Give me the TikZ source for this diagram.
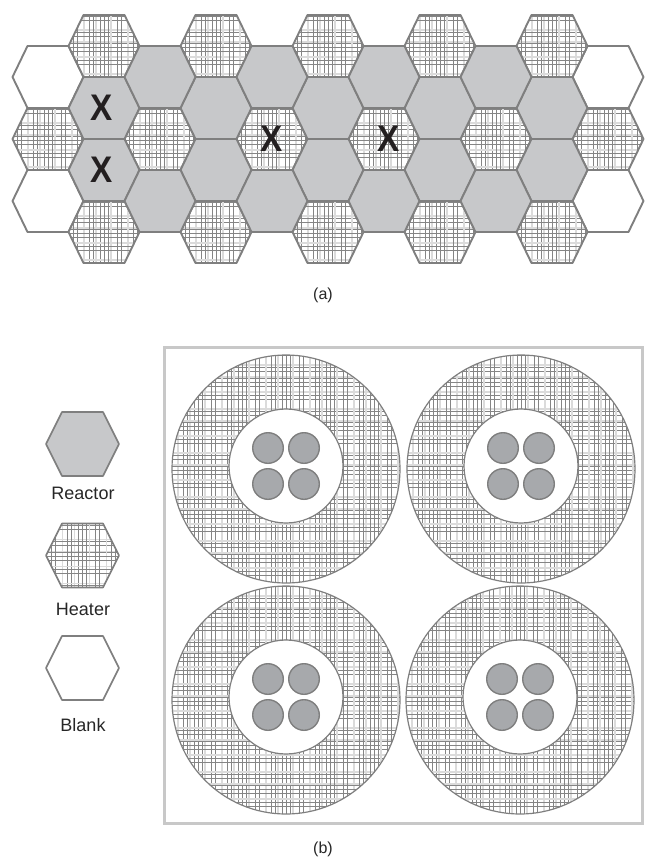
\documentclass[tikz,border=0pt]{standalone}
\usepackage{fontspec}
\setmainfont{Liberation Sans}
\usepackage{tikz}
\definecolor{edgegray}{HTML}{7F7F7F}
\definecolor{reactorgray}{HTML}{C7C8CA}
\definecolor{rodgray}{HTML}{A7A9AC}
\definecolor{framegray}{HTML}{C8C8C8}
\definecolor{markblack}{HTML}{231F20}
% irregular plaid, repeated every 44 units from the middle of the shape
\newcommand{\plaidlines}{%
  \begin{scope}[shift={(path picture bounding box.center)}]
    \foreach \k in {-3,...,3} {
      \foreach \o in {7,24,36} {
        \draw[line width=1.2pt, black!14] (\k*44+\o,-135) -- (\k*44+\o,135);
        \draw[line width=1.2pt, black!14] (-135,\k*44+\o+4) -- (135,\k*44+\o+4);
      }
      \foreach \o in {0,4,13,17,29,33,40} {
        \draw[line width=.45pt, black!48] (\k*44+\o,-135) -- (\k*44+\o,135);
        \draw[line width=.45pt, black!48] (-135,\k*44+\o+1) -- (135,\k*44+\o+1);
      }
    }
  \end{scope}}
\tikzset{
  blank/.style    = {draw=edgegray, line width=1.9pt, line join=round, fill=white},
  reactor/.style  = {blank, fill=reactorgray},
  heater/.style   = {blank, path picture={\plaidlines}},
  ring/.style     = {draw=edgegray, line width=1.2pt, fill=white},
  fuel/.style     = {ring, fill=rodgray, line width=1.4pt},
  caption/.style  = {font=\fontsize{16}{18}\selectfont, text=black!85},
  legendtxt/.style = {font=\fontsize{18}{20}\selectfont, text=black!85},
  xmark/.style    = {font=\fontsize{37}{37}\selectfont\bfseries, text=markblack, xscale=.9},
}
\newcommand{\hexcell}[3]{%
  \draw[#1] (#2-20.5,#3-31) -- (#2+20.5,#3-31) -- (#2+35.5,#3) -- (#2+20.5,#3+31)
    -- (#2-20.5,#3+31) -- (#2-35.5,#3) -- cycle;}
\newcommand{\legendhex}[3]{%
  \draw[#1, line width=1.6pt] (#2-20.5,#3-32) -- (#2+20.5,#3-32) -- (#2+36.5,#3) -- (#2+20.5,#3+32)
    -- (#2-20.5,#3+32) -- (#2-36.5,#3) -- cycle;}
\newcommand{\fuelunit}[4]{%
  \draw[ring, path picture={\plaidlines}] (#1,#2) circle [radius=114];
  \draw[ring] (#3,#4) circle [radius=57];
  \foreach \dx in {-18,18} {
    \foreach \dy in {-18,18} {
      \draw[fuel] (#3+\dx,#4+\dy) circle [radius=15.3];
    }
  }}
\begin{document}
\begin{tikzpicture}[x=1pt, y=-1pt]
  \useasboundingbox (0,0) rectangle (646,862);

  % (a) core map
  \foreach \x/\y in {48/77, 48/201, 608/77, 608/201} {\hexcell{blank}{\x}{\y}}
  \foreach \x/\y in {104/46, 216/46, 328/46, 440/46, 552/46,
                     104/232, 216/232, 328/232, 440/232, 552/232,
                     48/139, 160/139, 272/139, 384/139, 496/139, 608/139} {\hexcell{heater}{\x}{\y}}
  \foreach \x/\y in {104/108, 216/108, 328/108, 440/108, 552/108,
                     104/170, 216/170, 328/170, 440/170, 552/170,
                     160/77, 272/77, 384/77, 496/77,
                     160/201, 272/201, 384/201, 496/201} {\hexcell{reactor}{\x}{\y}}
  \node[xmark] (x1) at (102,108) {X};
  \node[xmark] (x2) at (102,170) {X};
  \node[xmark] (x3) at (272,139) {X};
  \node[xmark] (x4) at (389,139) {X};
  \node[caption] (capa) at (323,295) {(a)};

  % legend
  \legendhex{reactor}{82.5}{444}
  \legendhex{heater}{82.5}{555.5}
  \legendhex{blank}{82.5}{668}
  \node[legendtxt] (lreactor) at (83,493) {Reactor};
  \node[legendtxt] (lheater)  at (83,609) {Heater};
  \node[legendtxt] (lblank)   at (83,725) {Blank};

  % (b) unit cells
  \draw[framegray, line width=3pt] (164,347) rectangle (642,823);
  \fuelunit{286}{469}{286}{466}
  \fuelunit{521}{469}{521}{466}
  \fuelunit{286}{700}{286}{697}
  \fuelunit{520}{700}{520}{697}
  \node[caption] (capb) at (323,849) {(b)};
\end{tikzpicture}
\end{document}
